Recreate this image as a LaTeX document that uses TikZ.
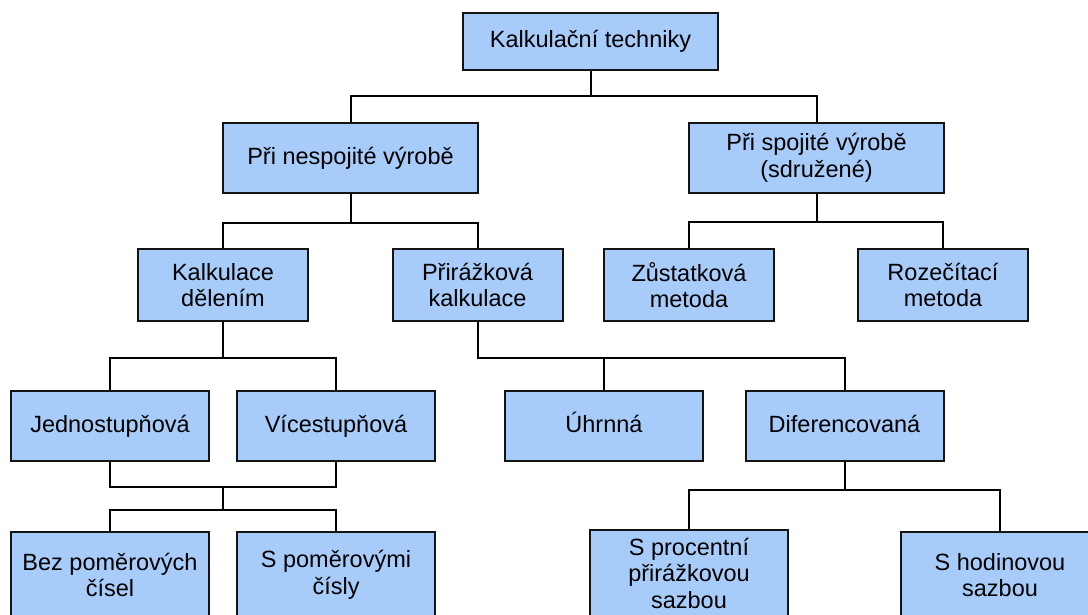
\documentclass[tikz,border=0pt]{standalone}
\usepackage{fontspec}
\setmainfont{Liberation Sans}
\usetikzlibrary{calc}
\definecolor{boxfill}{RGB}{168,204,250}
\definecolor{boxline}{RGB}{20,20,20}
\tikzset{
  box/.style={draw=boxline, fill=boxfill, line width=2pt, rectangle,
    align=center, inner sep=0pt, text=black,
    font=\fontsize{23.5}{26.5}\selectfont},
  oneline/.style={text height=17pt, text depth=5pt},
  wide/.style={box, minimum width=255pt},
  mid/.style={box, minimum width=170pt},
  std/.style={box, minimum width=198pt},
  link/.style={draw=black, line width=2pt}
}
\begin{document}
\begin{tikzpicture}[x=1pt, y=-1pt]
\useasboundingbox (0,0) rectangle (1088,614);
\clip (0,0) rectangle (1088,614);

% level 1
\node[wide, oneline, minimum height=57pt] (root) at (590.5,41.5) {Kalkulační techniky};

% level 2
\node[wide, oneline, minimum height=70pt] (nesp) at (350.5,158) {Při nespojité výrobě};
\node[wide, minimum height=70pt] (spoj) at (816.5,158) {Při spojité výrobě\\(sdružené)};

% level 3
\node[mid, minimum height=72pt] (deleni) at (223,285) {Kalkulace\\dělením};
\node[mid, minimum height=72pt] (prir) at (477.5,285) {Přirážková\\kalkulace};
\node[mid, minimum height=72pt] (zust) at (689,285) {Zůstatková\\metoda};
\node[mid, minimum height=72pt] (roze) at (943,285) {Rozečítací\\metoda};

% level 4
\node[std, oneline, minimum height=70pt] (jedno) at (110,426) {Jednostupňová};
\node[std, oneline, minimum height=70pt] (vice) at (336,426) {Vícestupňová};
\node[std, oneline, minimum height=70pt] (uhrn) at (604,426) {Úhrnná};
\node[std, oneline, minimum height=70pt] (dif) at (844.5,426) {Diferencovaná};

% level 5
\node[std, minimum height=86pt] (bez) at (110,575) {Bez poměrových\\čísel};
\node[std, minimum height=86pt] (spom) at (336,575) {S poměrovými\\čísly};
\node[std, minimum height=86pt] (sproc) at (689,573) {S procentní\\přirážkovou\\sazbou};
\node[std, minimum height=86pt] (shod) at (1000,575) {S hodinovou\\sazbou};

% tree connectors
\coordinate (b1) at ($(root.south)+(0,25)$);
\draw[link] (root.south) -- (b1);
\draw[link] (nesp.north) |- (b1) -| (spoj.north);

\coordinate (b2) at ($(nesp.south)+(0,29)$);
\draw[link] (nesp.south) -- (b2);
\draw[link] (deleni.north) |- (b2) -| (prir.north);

\coordinate (b3) at ($(spoj.south)+(0,28)$);
\draw[link] (spoj.south) -- (b3);
\draw[link] (zust.north) |- (b3) -| (roze.north);

\coordinate (b4) at ($(deleni.south)+(0,36)$);
\draw[link] (deleni.south) -- (b4);
\draw[link] (jedno.north) |- (b4) -| (vice.north);

\coordinate (b5) at ($(prir.south)+(0,36)$);
\draw[link] (prir.south) -- (b5) -| (dif.north);
\draw[link] (uhrn.north) -- (uhrn.north |- b5);

\coordinate (m1) at ($(jedno.south)!0.5!(vice.south)+(0,25)$);
\draw[link] (jedno.south) |- (m1) -| (vice.south);
\coordinate (m2) at ($(m1)+(0,23)$);
\draw[link] (m1) -- (m2);
\draw[link] (bez.north) |- (m2) -| (spom.north);

\coordinate (b6) at ($(dif.south)+(0,28)$);
\draw[link] (dif.south) -- (b6);
\draw[link] (sproc.north) |- (b6) -| (shod.north);
\end{tikzpicture}
\end{document}
